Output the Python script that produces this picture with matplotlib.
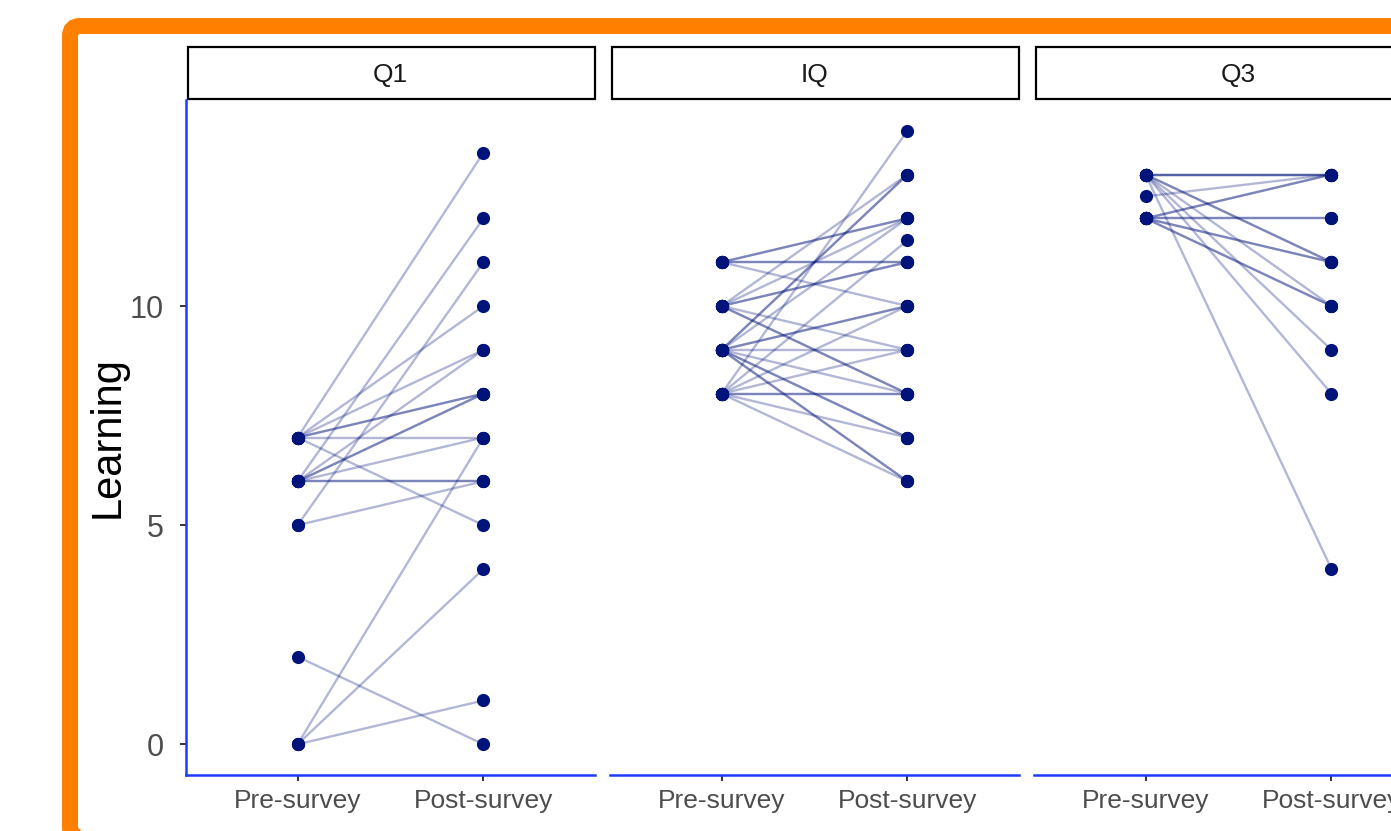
import matplotlib.pyplot as plt
from matplotlib.patches import FancyBboxPatch, Rectangle
from matplotlib.transforms import IdentityTransform

plt.rcParams['font.family'] = ['Liberation Sans', 'DejaVu Sans']

# paired scores, one entry per student (pre, post)
panels = ['Q1', 'IQ', 'Q3']
x_labels = ['Pre-survey', 'Post-survey']

q1_pre = [7, 6, 5, 7, 7, 6, 7, 7, 6, 6, 7, 6, 0, 6, 6, 5, 7, 0, 0, 2]
q1_post = [13.5, 12, 11, 10, 9, 9, 8, 8, 8, 8, 7, 7, 7, 6, 6, 6, 5, 4, 1, 0]

iq_pre = [11, 11, 11, 11, 11,
          10, 10, 10, 10, 10, 10, 10,
          9, 9, 9, 9, 9, 9, 9, 9, 9, 9, 9,
          8, 8, 8, 8, 8, 8, 8, 8]
iq_post = [12, 12, 11, 11, 10,
           13, 12, 11, 11, 9, 8, 8,
           13, 13, 12, 10, 10, 9, 8, 7, 7, 6, 6,
           14, 11.5, 10, 9, 8, 8, 7, 6]

q3_pre = [13, 13, 13, 12.5, 12, 12, 12, 12, 13, 13, 12, 12, 12, 12, 13, 13, 13, 13]
q3_post = [13, 13, 13, 13, 13, 13, 12, 12, 11, 11, 11, 11, 10, 10, 10, 9, 8, 4]

data = [(q1_pre, q1_post), (iq_pre, iq_post), (q3_pre, q3_post)]

navy = '#00137A'
blue = '#1E3CFF'

W, H = 1391, 831
fig = plt.figure(figsize=(W / 100, H / 100), dpi=100)
fig.patch.set_facecolor('white')

# orange rounded frame (runs off the right and bottom edges)
frame = FancyBboxPatch((70, -6), 1500, 811, boxstyle='round,pad=0,rounding_size=10',
                       transform=IdentityTransform(), facecolor='none',
                       edgecolor='#FF8000', linewidth=11.5)
fig.add_artist(frame)

panel_w, gap = 409, 15
left0, top, bottom = 186, 100, 775
for i, (name, (pre, post)) in enumerate(zip(panels, data)):
    left = left0 + i * (panel_w + gap)
    ax = fig.add_axes([left / W, 1 - bottom / H, panel_w / W, (bottom - top) / H])
    for a, b in zip(pre, post):
        ax.plot([0, 1], [a, b], color=navy, alpha=0.3, lw=1.7, solid_capstyle='butt', zorder=2)
    ax.scatter([0] * len(pre), pre, s=90, color=navy, zorder=3, linewidths=0)
    ax.scatter([1] * len(post), post, s=90, color=navy, zorder=3, linewidths=0)

    ax.set_xlim(-0.6, 1.6)
    ax.set_ylim(-0.7, 14.7)
    ax.set_xticks([0, 1])
    ax.set_xticklabels(x_labels, fontsize=19, color='#4D4D4D')
    ax.set_yticks([0, 5, 10])
    ax.tick_params(axis='both', length=4, width=1.4, color='#333333')
    ax.tick_params(axis='x', pad=6)
    for s in ['top', 'right']:
        ax.spines[s].set_visible(False)
    ax.spines['bottom'].set_color(blue)
    ax.spines['bottom'].set_linewidth(1.8)
    if i == 0:
        ax.spines['left'].set_color(blue)
        ax.spines['left'].set_linewidth(1.8)
        ax.set_yticklabels(['0', '5', '10'], fontsize=22, color='#4D4D4D')
        ax.tick_params(axis='y', pad=12)
        ax.set_ylabel('Learning', fontsize=30, color='black')
        ax.yaxis.set_label_coords(-0.142, 0.5)
    else:
        ax.spines['left'].set_visible(False)
        ax.tick_params(axis='y', left=False, labelleft=False)

    # facet strip
    h = bottom - top
    strip = Rectangle((2 / panel_w, (bottom - 99) / h), 1 - 2 / panel_w, 52 / h,
                      transform=ax.transAxes, clip_on=False, facecolor='white',
                      edgecolor='black', linewidth=1.6)
    ax.add_patch(strip)
    ax.text(0.5, (bottom - 75) / h, name, transform=ax.transAxes, ha='center',
            va='center', fontsize=19, color='#1A1A1A')

fig.savefig('out.png', dpi=100)
